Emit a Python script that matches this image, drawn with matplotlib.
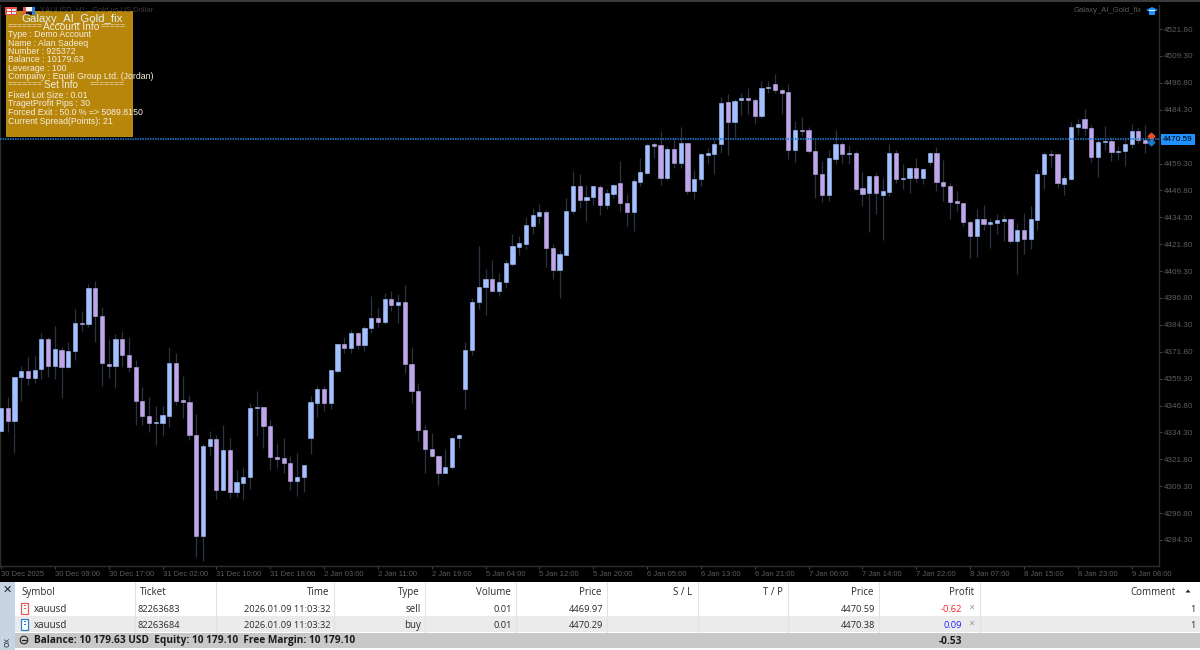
import matplotlib
matplotlib.use('Agg')
import matplotlib.pyplot as plt
from matplotlib.patches import Rectangle, Polygon, Circle
import numpy as np

plt.rcParams['font.family'] = ['Liberation Sans', 'DejaVu Sans']

# H1 candles
opens = [4335.1, 4345.7, 4339.8, 4360.1, 4362.9, 4359.8, 4363.6, 4377.6, 4365.0, 4372.8,
         4364.7, 4372.0, 4385.2, 4384.6, 4401.4, 4388.4, 4366.3, 4365.2, 4377.6, 4370.3,
         4364.6, 4348.8, 4341.8, 4338.7, 4338.9, 4342.1, 4366.4, 4349.2, 4348.6, 4333.1,
         4286.3, 4328.2, 4331.1, 4307.7, 4326.0, 4306.8, 4311.0, 4313.6, 4345.7, 4346.0,
         4337.5, 4323.1, 4322.3, 4320.1, 4311.6, 4313.5, 4331.9, 4348.1, 4354.3, 4348.1,
         4363.0, 4375.3, 4373.4, 4380.7, 4375.1, 4382.8, 4387.3, 4385.5, 4396.3, 4393.5,
         4394.8, 4366.0, 4353.4, 4335.4, 4326.5, 4323.4, 4315.3, 4318.4, 4331.9, 4354.3,
         4372.8, 4395.1, 4402.0, 4405.8, 4399.9, 4404.2, 4412.7, 4420.6, 4422.0, 4430.4,
         4435.0, 4436.6, 4420.0, 4409.6, 4416.9, 4437.2, 4448.8, 4442.3, 4443.7, 4448.5,
         4440.0, 4445.3, 4450.1, 4440.8, 4436.9, 4450.8, 4455.0, 4468.2, 4467.7, 4452.7,
         4465.9, 4459.7, 4468.7, 4446.7, 4451.9, 4463.2, 4463.8, 4468.2, 4487.7, 4478.4,
         4488.9, 4489.7, 4488.8, 4481.3, 4494.2, 4496.3, 4493.7, 4492.6, 4465.7, 4475.1,
         4474.7, 4465.1, 4454.4, 4444.5, 4461.3, 4468.5, 4463.5, 4464.4, 4447.7, 4445.4,
         4453.3, 4444.8, 4446.2, 4464.4, 4452.0, 4452.5, 4457.0, 4452.4, 4460.0, 4464.0,
         4450.7, 4448.8, 4441.7, 4440.9, 4432.0, 4425.6, 4433.5, 4431.2, 4431.8, 4432.7,
         4433.5, 4423.1, 4428.2, 4424.2, 4433.2, 4454.3, 4463.7, 4463.6, 4449.9, 4452.2,
         4476.1, 4480.0, 4475.8, 4462.5, 4469.3, 4469.7, 4464.6, 4464.9, 4468.4, 4474.5, 4470.4]
highs = [4345.7, 4350.9, 4360.2, 4365.2, 4369.2, 4369.8, 4380.4, 4378.5, 4383.8, 4373.9,
         4376.3, 4391.5, 4390.6, 4403.3, 4404.7, 4392.5, 4377.6, 4379.9, 4381.6, 4378.5,
         4368.0, 4355.6, 4350.6, 4346.8, 4346.8, 4373.9, 4371.4, 4360.5, 4351.6, 4342.7,
         4328.9, 4335.1, 4333.1, 4337.8, 4331.6, 4316.7, 4318.4, 4347.8, 4353.6, 4346.0,
         4340.1, 4329.4, 4331.9, 4323.4, 4324.8, 4319.2, 4351.4, 4355.7, 4356.0, 4363.3,
         4375.4, 4378.7, 4381.8, 4381.0, 4383.8, 4397.6, 4392.3, 4399.1, 4399.9, 4398.6,
         4402.7, 4373.9, 4357.1, 4337.6, 4333.9, 4323.8, 4326.6, 4332.0, 4333.4, 4376.2,
         4396.8, 4421.1, 4410.3, 4414.4, 4408.6, 4414.6, 4426.5, 4425.4, 4434.3, 4438.5,
         4440.3, 4437.5, 4421.9, 4418.9, 4443.1, 4455.8, 4454.6, 4449.3, 4448.8, 4449.4,
         4447.3, 4449.6, 4460.3, 4445.1, 4452.4, 4461.7, 4468.7, 4469.1, 4474.5, 4467.3,
         4471.0, 4476.2, 4468.7, 4456.3, 4464.4, 4466.3, 4470.5, 4490.0, 4491.4, 4489.5,
         4491.9, 4494.3, 4489.8, 4497.6, 4497.7, 4500.8, 4494.6, 4496.2, 4479.0, 4480.9,
         4476.4, 4470.5, 4460.6, 4465.4, 4475.1, 4469.2, 4468.0, 4465.1, 4455.3, 4453.4,
         4454.7, 4452.5, 4468.3, 4465.4, 4459.0, 4457.9, 4462.0, 4456.7, 4464.5, 4467.0,
         4460.8, 4450.1, 4446.5, 4441.1, 4432.7, 4438.1, 4440.0, 4434.0, 4435.7, 4435.2,
         4433.5, 4431.6, 4436.3, 4439.4, 4456.6, 4464.6, 4465.6, 4463.7, 4453.8, 4478.4,
         4480.0, 4484.6, 4477.2, 4470.2, 4476.9, 4471.0, 4467.3, 4471.8, 4477.8, 4475.6, 4477.2]
lows = [4335.1, 4334.7, 4324.5, 4348.8, 4356.2, 4357.4, 4359.0, 4359.9, 4359.3, 4350.5,
        4364.3, 4368.0, 4381.5, 4383.5, 4376.3, 4355.9, 4359.5, 4354.8, 4364.6, 4362.6,
        4337.6, 4337.8, 4334.7, 4328.6, 4332.8, 4337.0, 4347.1, 4341.2, 4330.8, 4276.6,
        4274.3, 4323.8, 4303.5, 4307.7, 4304.0, 4304.2, 4303.1, 4308.0, 4332.8, 4327.2,
        4317.0, 4317.9, 4315.6, 4307.7, 4304.8, 4306.8, 4324.3, 4341.5, 4344.4, 4345.1,
        4362.1, 4371.2, 4371.1, 4373.2, 4372.2, 4380.7, 4383.2, 4384.9, 4390.9, 4385.3,
        4361.9, 4347.8, 4330.3, 4315.3, 4323.1, 4309.9, 4315.3, 4317.3, 4327.2, 4345.1,
        4370.5, 4391.8, 4388.9, 4399.9, 4397.7, 4401.3, 4411.7, 4416.9, 4419.6, 4426.5,
        4431.2, 4411.2, 4405.8, 4396.6, 4416.9, 4436.0, 4438.6, 4432.7, 4440.2, 4435.2,
        4438.3, 4443.3, 4436.9, 4430.4, 4428.1, 4448.8, 4454.6, 4462.0, 4449.4, 4451.8,
        4457.2, 4457.2, 4445.3, 4442.9, 4448.8, 4458.9, 4454.4, 4464.4, 4463.2, 4471.6,
        4481.8, 4482.1, 4477.5, 4480.5, 4491.9, 4492.2, 4482.4, 4461.2, 4459.8, 4472.2,
        4464.0, 4443.2, 4441.5, 4442.0, 4459.2, 4459.6, 4459.0, 4446.9, 4439.7, 4427.7,
        4435.9, 4423.7, 4444.0, 4450.3, 4447.4, 4445.4, 4450.8, 4450.0, 4458.6, 4446.7,
        4442.0, 4433.5, 4437.4, 4430.4, 4415.5, 4416.0, 4428.5, 4420.0, 4426.5, 4423.3,
        4422.5, 4408.1, 4417.4, 4419.6, 4428.4, 4447.4, 4457.5, 4448.1, 4444.8, 4451.5,
        4472.7, 4472.7, 4460.0, 4453.0, 4465.6, 4460.6, 4460.9, 4458.3, 4466.3, 4468.7, 4464.3]
closes = [4345.7, 4339.8, 4360.2, 4362.9, 4359.5, 4363.5, 4377.6, 4365.0, 4372.9, 4364.7,
          4372.0, 4385.0, 4384.7, 4401.4, 4388.4, 4366.4, 4365.2, 4377.6, 4370.3, 4364.6,
          4348.8, 4341.8, 4338.5, 4339.2, 4342.3, 4366.4, 4349.1, 4348.6, 4333.1, 4286.0,
          4328.0, 4331.3, 4307.7, 4326.0, 4306.8, 4311.1, 4313.6, 4345.7, 4346.1, 4337.5,
          4323.1, 4322.1, 4320.0, 4311.6, 4313.5, 4319.0, 4348.3, 4354.3, 4348.1, 4363.2,
          4375.3, 4373.4, 4380.7, 4374.9, 4382.8, 4387.3, 4385.8, 4396.3, 4393.5, 4394.8,
          4366.0, 4353.4, 4335.4, 4326.5, 4323.4, 4315.3, 4318.4, 4331.9, 4333.0, 4372.8,
          4395.1, 4402.0, 4405.8, 4399.9, 4404.4, 4413.0, 4420.8, 4422.2, 4430.6, 4435.2,
          4436.6, 4419.9, 4409.6, 4417.1, 4437.4, 4448.8, 4442.3, 4443.7, 4448.8, 4440.0,
          4445.4, 4449.1, 4440.8, 4436.9, 4451.0, 4455.2, 4468.0, 4467.6, 4452.7, 4466.0,
          4459.7, 4468.7, 4446.7, 4451.9, 4463.5, 4464.0, 4468.2, 4487.5, 4478.4, 4488.6,
          4489.7, 4488.9, 4481.3, 4494.2, 4495.1, 4493.7, 4492.3, 4465.7, 4475.0, 4474.5,
          4464.9, 4454.4, 4444.5, 4461.7, 4468.5, 4463.8, 4464.4, 4447.4, 4445.2, 4453.3,
          4445.5, 4446.3, 4464.4, 4452.0, 4452.8, 4457.2, 4452.4, 4456.7, 4464.0, 4450.5,
          4448.7, 4441.6, 4440.8, 4432.0, 4425.6, 4433.5, 4431.2, 4432.0, 4432.9, 4433.5,
          4423.1, 4428.2, 4424.2, 4433.3, 4454.4, 4463.7, 4463.4, 4450.2, 4452.4, 4476.3,
          4477.6, 4475.8, 4462.3, 4469.4, 4469.7, 4464.6, 4465.1, 4468.5, 4474.4, 4470.4, 4468.7]

time_labels = ['30 Dec 2025', '30 Dec 09:00', '30 Dec 17:00', '31 Dec 02:00', '31 Dec 10:00',
               '31 Dec 18:00', '2 Jan 03:00', '2 Jan 11:00', '2 Jan 19:00', '5 Jan 04:00',
               '5 Jan 12:00', '5 Jan 20:00', '6 Jan 05:00', '6 Jan 13:00', '6 Jan 21:00',
               '7 Jan 06:00', '7 Jan 14:00', '7 Jan 22:00', '8 Jan 07:00', '8 Jan 15:00',
               '8 Jan 23:00', '9 Jan 08:00']
price_ticks = [4521.8, 4509.3, 4496.8, 4484.3, 4471.8, 4459.3, 4446.8, 4434.3, 4421.8, 4409.3,
               4396.8, 4384.3, 4371.8, 4359.3, 4346.8, 4334.3, 4321.8, 4309.3, 4296.8, 4284.3]
bid_price = 4470.59
sell_arrow_price = 4472.0
buy_arrow_price = 4469.2

account_lines = ['Type : Demo Account', 'Name : Alan Sadeeq', 'Number : 925372', 'Balance : 10179.63',
                 'Leverage : 100', 'Company : Equiti Group Ltd. (Jordan)']
set_lines = ['Fixed Lot Size : 0.01', 'TragetProfit Pips : 30', 'Forced Exit : 50.0 % => 5089.8150',
             'Current Spread(Points): 21']

table_symbols = ['xauusd', 'xauusd']
table_tickets = ['82263683', '82263684']
table_times = ['2026.01.09 11:03:32', '2026.01.09 11:03:32']
table_types = ['sell', 'buy']
table_volumes = ['0.01', '0.01']
table_open_prices = ['4469.97', '4470.29']
table_now_prices = ['4470.59', '4470.38']
table_profits = ['-0.62', '0.09']
table_comments = ['1', '1']

UP = '#a3c1ff'
DOWN = '#bda7e8'
WICK = '#2b3244'
GRID_TEXT = '#5c5c5c'
INK = '#2a2a2a'

fig = plt.figure(figsize=(12, 6.5), dpi=100, facecolor='black')

# price chart
ax = fig.add_axes([0, 84 / 650, 1159 / 1200, 561 / 650], facecolor='black')
x = np.arange(len(opens))
o = np.array(opens)
c = np.array(closes)
colors = [UP if cl >= op else DOWN for op, cl in zip(o, c)]
ax.vlines(x, lows, highs, color=WICK, linewidth=0.9, zorder=2)
ax.bar(x, np.abs(c - o), bottom=np.minimum(o, c), width=0.62, color=colors,
       edgecolor=colors, linewidth=0.4, zorder=3)
ax.axhline(bid_price, color='#1e78cc', linewidth=1.2, linestyle=(0, (0.9, 0.6)), zorder=4)
ax.plot([170.95], [sell_arrow_price], marker='D', ms=3.4, color='#e8522a', zorder=5, clip_on=False)
ax.plot([170.95], [buy_arrow_price], marker='D', ms=3.4, color='#1c78c8', zorder=5, clip_on=False)

ax.set_xlim(-0.15, 172.07)
ax.set_ylim(4272.2, 4533.0)
ax.yaxis.tick_right()
ax.set_yticks(price_ticks)
ax.set_yticklabels(['%.2f' % p for p in price_ticks])
ax.set_xticks(x[::8])
ax.set_xticklabels(time_labels)
ax.tick_params(axis='y', colors='#444444', labelcolor=GRID_TEXT, labelsize=5.9, length=2, width=0.8, pad=1.5)
ax.tick_params(axis='x', colors='#444444', labelcolor=GRID_TEXT, labelsize=5.5, length=2, width=0.8, pad=1.5)
for lab in ax.get_xticklabels():
    lab.set_ha('left')
ax.spines['top'].set_visible(False)
for side in ['left', 'right', 'bottom']:
    ax.spines[side].set_color('#2e2e2e')
    ax.spines[side].set_linewidth(1)

ax.text(1 + 4 / 1159, bid_price - 0.2, '%.2f' % bid_price, transform=ax.get_yaxis_transform(), fontsize=5.9,
        color='black', ha='left', va='center', zorder=10, clip_on=False,
        bbox=dict(boxstyle='square,pad=0.25', facecolor='#1e90ff', edgecolor='none'))

# everything else is window furniture, drawn on a pixel layer
ui = fig.add_axes([0, 0, 1, 1], zorder=5)
ui.set_xlim(0, 1200)
ui.set_ylim(650, 0)
ui.axis('off')


def box(x0, y0, x1, y1, color, **kw):
    ui.add_patch(Rectangle((x0, y0), x1 - x0, y1 - y0, facecolor=color, edgecolor=kw.pop('edge', 'none'),
                           linewidth=kw.pop('lw', 0), **kw))


box(0, 0, 1200, 2, '#3a3a3a')
ui.text(40, 10, 'XAUUSD, H1:  Gold vs US Dollar', fontsize=5.5, color='#3c3c3c', va='center')
ui.text(1142, 10, 'Galaxy_AI_Gold_fix', fontsize=5.5, color='#5c5c5c', ha='right', va='center')
ui.add_patch(Polygon([(1146, 10), (1152, 7), (1158, 10), (1152, 13)], facecolor='#1e90ff'))
box(1149, 12, 1155, 15, '#1e90ff')
box(1149, 9.5, 1155, 10.5, 'white')

# account panel
box(5.5, 11, 131.5, 136, '#b8860b', edge='#c89a1e', lw=0.6)
box(5, 7, 17, 15, '#e8504a')
box(6.5, 8.5, 11, 10.5, 'white')
box(11.5, 8.5, 16, 10.5, '#dfe8ff')
box(6.5, 11.5, 11, 13.5, 'white')
box(11.5, 11.5, 16, 13.5, '#dfe8ff')
box(23, 7, 29, 15, '#e8504a')
box(29, 7, 35, 15, '#2f7fd8')
box(26, 7, 32, 11, 'white')
box(26, 12, 32, 15, '#101018')
ui.text(72, 19.5, 'Galaxy_AI_Gold_fix', fontsize=8.2, color='#dff2f2', ha='center', va='center')
TXT = '#f5efe0'
ui.text(8, 26.5, '=======', fontsize=6.1, color=TXT, va='center')
ui.text(71.5, 26.5, 'Account Info', fontsize=7.3, color=TXT, ha='center', va='center')
ui.text(101, 26.5, '=====', fontsize=6.1, color=TXT, va='center')
for i, line in enumerate(account_lines):
    ui.text(7.5, 34.7 + i * 8.4, line, fontsize=6.3, color=TXT, va='center')
ui.text(8, 85, '=======', fontsize=6.1, color=TXT, va='center')
ui.text(61, 85, 'Set Info', fontsize=7.1, color=TXT, ha='center', va='center')
ui.text(90, 85, '=======', fontsize=6.1, color=TXT, va='center')
for i, line in enumerate(set_lines):
    ui.text(7.5, 95 + i * 8.7, line, fontsize=6.3, color=TXT, va='center')

# toolbox table
F = ['Open Sans', 'DejaVu Sans']
box(0, 582, 1200, 650, 'white')
box(0, 582, 15, 650, '#c6d4e4')
box(15, 616, 1200, 631.5, '#ebebeb')
box(15, 632.5, 1200, 648, '#c8c8c8')
for sx in [134.7, 216, 334, 425, 515.5, 607, 697.6, 788, 879, 979.6]:
    ui.plot([sx, sx], [582, 632], color='#e2e2e2', linewidth=0.8)
ui.text(7, 590, '✕', fontsize=8, family='DejaVu Sans', color='#222222', ha='center', va='center', fontweight='bold')
ui.text(7, 642, 'ox', fontsize=6.5, family=F, color='#333333', ha='center', va='center', rotation=90)

YH, YR = 592.5, [609.5, 625.5]
ui.text(21, YH, 'Symbol', fontsize=7, family=F, color=INK, va='center')
ui.text(140, YH, 'Ticket', fontsize=7, family=F, color=INK, va='center')
for name, rx in [('Time', 329), ('Type', 420), ('Volume', 511), ('Price', 602), ('S / L', 692),
                 ('T / P', 783), ('Price', 874), ('Profit', 974), ('Comment', 1176)]:
    ui.text(rx, YH, name, fontsize=7, family=F, color=INK, ha='right', va='center')
ui.add_patch(Polygon([(1185.5, 592.5), (1190.5, 592.5), (1188, 589.5)], facecolor='#222222'))

icon_colors = ['#e05a5a', '#2f80c8']
profit_colors = ['#ff2020', '#2020ff']
for r, y in enumerate(YR):
    ui.add_patch(Rectangle((21, y - 7), 7, 11, facecolor='white', edgecolor=icon_colors[r], linewidth=0.9))
    box(23.5, y - 4.5, 25.5, y - 3.5, icon_colors[r])
    box(23.5, y - 2, 25.5, y - 1, icon_colors[r])
    ui.text(34, y, table_symbols[r], fontsize=7, family=F, color=INK, va='center')
    ui.text(137, y, table_tickets[r], fontsize=6.7, family=F, color=INK, va='center')
    ui.text(330, y, table_times[r], fontsize=6.7, family=F, color=INK, ha='right', va='center')
    ui.text(421, y, table_types[r], fontsize=7, family=F, color=INK, ha='right', va='center')
    ui.text(511.5, y, table_volumes[r], fontsize=6.7, family=F, color=INK, ha='right', va='center')
    ui.text(603, y, table_open_prices[r], fontsize=6.7, family=F, color=INK, ha='right', va='center')
    ui.text(875.5, y, table_now_prices[r], fontsize=6.7, family=F, color=INK, ha='right', va='center')
    ui.text(962, y, table_profits[r], fontsize=6.7, family=F, color=profit_colors[r], ha='right', va='center')
    ui.text(971, y - 2, '✕', fontsize=5.5, family='DejaVu Sans', color='#9a9a9a', ha='center', va='center')
    ui.text(1196, y, table_comments[r], fontsize=6.7, family=F, color=INK, ha='right', va='center')

ui.add_patch(Circle((24, 640), 3.8, facecolor='none', edgecolor='#222222', linewidth=0.8))
ui.plot([21.8, 26.2], [640, 640], color='#222222', linewidth=0.9)
ui.text(34, 641, 'Balance: 10 179.63 USD  Equity: 10 179.10  Free Margin: 10 179.10', fontsize=7.3, family=F,
        fontweight='bold', color='#1a1a1a', va='center')
ui.text(962, 641, '-0.53', fontsize=7.3, family=F, fontweight='bold', color='#1a1a1a', ha='right', va='center')

fig.savefig('out.png', dpi=100, facecolor='black')
